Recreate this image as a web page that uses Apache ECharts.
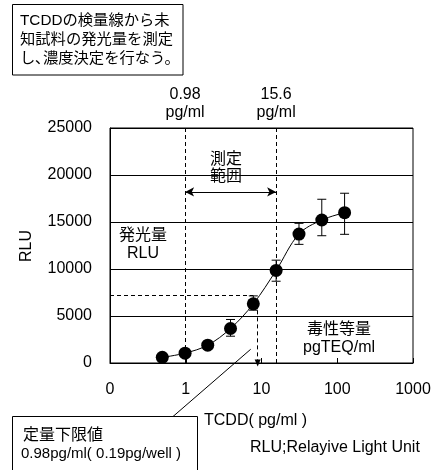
<!DOCTYPE html>
<html><head><meta charset="utf-8">
<script src="https://cdn.jsdelivr.net/npm/echarts@6/dist/echarts.min.js"></script>
<style>html,body{margin:0;padding:0;background:#fff}#c{width:436px;height:470px}</style>
</head><body><div id="c"></div>
<script>
// ---- data ----
const concentrations = [0.49, 0.98, 1.95, 3.9, 7.8, 15.6, 31.25, 62.5, 125];
const rluMean = [600, 1050, 1900, 3670, 6290, 9850, 13720, 15210, 15990];
const rluLow  = [null, null, null, 2850, 5620, 8700, 12620, 13540, 13690];
const rluHigh = [null, null, null, 4630, 7140, 10940, 14860, 17420, 18060];
const xTickValues = [0.1, 1, 10, 100, 1000];
const xTickLabels = ['0', '1', '10', '100', '1000'];
const yTicks = [0, 5000, 10000, 15000, 20000, 25000];
const rangeLow = 0.98, rangeHigh = 15.6;
const sampleRLU = 7200, sampleConc = 8.9;

const FONT = '"Liberation Sans", Arial, "Noto Sans CJK JP", sans-serif';
const chart = echarts.init(document.getElementById('c'), null, {renderer: 'canvas'});

const lineData = concentrations.map((x, i) => [x, rluMean[i]]);
const errData = concentrations.map((x, i) => [x, rluLow[i], rluHigh[i]]).filter(d => d[1] != null);

function labelFor(v) {
  let best = 0, bd = Infinity;
  xTickValues.forEach((t, i) => { const d = Math.abs(Math.log10(t) - Math.log10(v)); if (d < bd) { bd = d; best = i; } });
  return xTickLabels[best];
}

const dash = {color: '#000', width: 1, type: [4, 3]};

chart.setOption({
  animation: false,
  backgroundColor: '#fff',
  textStyle: {fontFamily: FONT},
  grid: {left: 110, top: 128, right: 23, bottom: 107, show: true, borderColor: '#000', borderWidth: 1},
  xAxis: {
    type: 'log', logBase: 10, min: xTickValues[0], max: xTickValues[xTickValues.length - 1],
    axisLine: {lineStyle: {color: '#000'}},
    axisTick: {show: true, inside: true, length: 5, lineStyle: {color: '#000'}},
    axisLabel: {color: '#000', fontSize: 16, margin: 19, fontFamily: FONT, formatter: v => labelFor(v)},
    splitLine: {show: false}
  },
  yAxis: {
    type: 'value', min: yTicks[0], max: yTicks[yTicks.length - 1], interval: 5000,
    axisLine: {show: true, lineStyle: {color: '#000'}},
    axisTick: {show: false},
    axisLabel: {color: '#000', fontSize: 16, margin: 18, fontFamily: FONT, formatter: v => String(v)},
    splitLine: {show: true, lineStyle: {color: '#000', width: 1}}
  },
  series: [
    {
      type: 'line', data: lineData, smooth: 0.35,
      symbol: 'circle', symbolSize: 13,
      itemStyle: {color: '#000'}, lineStyle: {color: '#000', width: 1},
      z: 5,
      markLine: {
        silent: true, symbol: 'none', label: {show: false}, animation: false,
        data: [
          [{coord: [rangeLow, yTicks[0]], lineStyle: dash}, {coord: [rangeLow, yTicks[yTicks.length - 1]]}],
          [{coord: [rangeHigh, yTicks[0]], lineStyle: dash}, {coord: [rangeHigh, yTicks[yTicks.length - 1]]}],
          [{coord: [xTickValues[0], sampleRLU], lineStyle: dash}, {coord: [7.8, sampleRLU]}],
          [{coord: [sampleConc, 5600], lineStyle: dash, symbol: 'none'}, {coord: [sampleConc, 0], symbol: 'triangle', symbolSize: [6, 7], symbolRotate: 180}],
          [{coord: [rangeLow, 18200], symbol: 'arrow', symbolSize: [7, 9], lineStyle: {color: '#000', width: 1, type: 'solid'}},
           {coord: [rangeHigh, 18200], symbol: 'arrow', symbolSize: [7, 9]}]
        ]
      }
    },
    {
      type: 'custom', data: errData, z: 4,
      renderItem: (params, api) => {
        const top = api.coord([api.value(0), api.value(2)]);
        const bot = api.coord([api.value(0), api.value(1)]);
        const w = 4.5;
        const st = {stroke: '#000', lineWidth: 1};
        return {type: 'group', children: [
          {type: 'line', shape: {x1: top[0], y1: top[1], x2: bot[0], y2: bot[1]}, style: st},
          {type: 'line', shape: {x1: top[0] - w, y1: top[1], x2: top[0] + w, y2: top[1]}, style: st},
          {type: 'line', shape: {x1: bot[0] - w, y1: bot[1], x2: bot[0] + w, y2: bot[1]}, style: st}
        ]};
      }
    }
  ]
});

const p0 = chart.convertToPixel({gridIndex: 0}, [rangeLow, yTicks[yTicks.length - 1]]);
const p1 = chart.convertToPixel({gridIndex: 0}, [rangeHigh, yTicks[yTicks.length - 1]]);
const leadStart = chart.convertToPixel({gridIndex: 0}, [7.2, 1460]);

function txt(x, y, text, opts) {
  return Object.assign({type: 'text', x: x, y: y, z: 20,
    style: Object.assign({text: text, fill: '#000', font: '16px ' + FONT, align: 'center', verticalAlign: 'middle', lineHeight: 18}, opts || {})});
}

chart.setOption({
  graphic: [
    {type: 'rect', shape: {x: 12.5, y: 4.5, width: 170.5, height: 70.5}, style: {fill: '#fff', stroke: '#000', lineWidth: 1}, z: 10},
    txt(20, 40, 'TCDDの検量線から未\n知試料の発光量を測定\nし､濃度決定を行なう。', {align: 'left', lineHeight: 19, font: '15.3px ' + FONT}),
    txt(p0[0], 104, '0.98\npg/ml'),
    txt(p1[0], 104, '15.6\npg/ml'),
    txt(226, 168, '測定\n範囲', {lineHeight: 17}),
    txt(143, 245, '発光量\nRLU', {lineHeight: 18}),
    txt(339, 339, '毒性等量\npgTEQ/ml', {lineHeight: 18}),
    {type: 'text', x: 27, y: 246, rotation: Math.PI / 2, z: 20,
      style: {text: 'RLU', fill: '#000', font: '16px ' + FONT, align: 'center', verticalAlign: 'middle'}},
    txt(204, 421, 'TCDD( pg/ml )', {align: 'left'}),
    txt(250, 448, 'RLU;Relayive Light Unit', {align: 'left'}),
    {type: 'line', shape: {x1: leadStart[0], y1: leadStart[1], x2: 173, y2: 416.5}, style: {stroke: '#000', lineWidth: 1}, z: 10},
    {type: 'rect', shape: {x: 12.5, y: 416.5, width: 185, height: 60}, style: {fill: '#fff', stroke: '#000', lineWidth: 1}, z: 10},
    txt(23, 436, '定量下限値', {align: 'left'}),
    txt(21, 454, '0.98pg/ml( 0.19pg/well )', {align: 'left', font: '15px ' + FONT})
  ]
});
</script>
</body></html>
